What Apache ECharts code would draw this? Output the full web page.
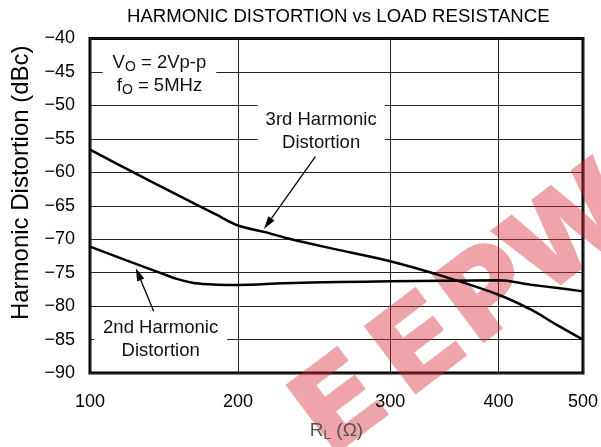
<!DOCTYPE html>
<html><head><meta charset="utf-8">
<script src="https://cdn.jsdelivr.net/npm/echarts@6/dist/echarts.min.js"></script>
<style>html,body{margin:0;padding:0;background:#fff}#c{width:601px;height:447px}</style>
</head><body><div id="c"></div>
<script>
// ---- data ----
const titleText = 'HARMONIC DISTORTION vs LOAD RESISTANCE';
const xTicks = [100, 200, 300, 400, 500];
const xTickLabels = ['100', '200', '300', '400', '500'];
// the original x scale is non-uniform: fraction of the axis length at each tick
const xWarp = [0, 0.3004, 0.6089, 0.8286, 1];

const r3 = [100, 130, 160, 185, 200, 217, 235, 266, 300, 350, 400, 438, 469, 500];
const d3 = [-56.6, -60.1, -63.5, -66.3, -67.95, -68.9, -70.0, -71.6, -73.3, -75.6, -78.3, -80.5, -82.8, -85.0];

const r2 = [100, 125, 147, 158, 169, 180, 192, 200, 230, 266, 300, 350, 400, 438, 470, 500];
const d2 = [-71.1, -73.2, -75.0, -75.9, -76.5, -76.75, -76.85, -76.85, -76.6, -76.4, -76.3, -76.2, -76.15, -76.8, -77.3, -77.8];

// annotations in data coordinates [R, dB]
const noteCond = [146.9, -45.3];
const note3 = [254.6, -53.9];
const note2 = [147.7, -84.93];
const arrow3 = [[250.8, -57.64], [217, -68.48]];
const arrow2 = [[143, -80.78], [130.9, -74.3]];

// ---- helpers ----
const FONT = '"Liberation Sans", Arial, Helvetica, sans-serif';
function toU(r) {
  for (let i = 0; i < xTicks.length - 1; i++) {
    if (r <= xTicks[i + 1] || i === xTicks.length - 2) {
      const f = (r - xTicks[i]) / (xTicks[i + 1] - xTicks[i]);
      return (xWarp[i] + f * (xWarp[i + 1] - xWarp[i])) * 1000;
    }
  }
}
const tickU = xWarp.map(w => w * 1000);

const chart = echarts.init(document.getElementById('c'), null, { renderer: 'canvas' });
const option = {
  animation: false,
  backgroundColor: '#fff',
  title: {
    text: titleText, left: 127, top: 7, padding: 0,
    textStyle: { fontFamily: FONT, fontSize: 18.6, fontWeight: 'normal', color: '#000' }
  },
  grid: { left: 90, right: 15, top: 38.5, bottom: 73.5, show: true, borderColor: '#000', borderWidth: 3 },
  xAxis: {
    type: 'value', min: 0, max: 1000,
    name: '{a|R}{b|L}{a| (Ω)}', nameLocation: 'middle', nameGap: 47,
    nameTextStyle: {
      rich: {
        a: { fontFamily: FONT, fontSize: 19, color: '#555', lineHeight: 22 },
        b: { fontFamily: FONT, fontSize: 13.5, color: '#555', lineHeight: 12, verticalAlign: 'bottom' }
      }
    },
    axisLine: { show: false },
    axisTick: { show: false, customValues: tickU },
    axisLabel: {
      customValues: tickU, margin: 20, fontFamily: FONT, fontSize: 18, color: '#000',
      formatter: v => { const i = tickU.findIndex(t => Math.abs(t - v) < 0.5); return i >= 0 ? xTickLabels[i] : ''; }
    },
    splitLine: { show: true, lineStyle: { color: '#222', width: 1 } }
  },
  yAxis: {
    type: 'value', min: -90, max: -40, interval: 5,
    name: 'Harmonic Distortion (dBc)', nameLocation: 'middle', nameGap: 57,
    nameTextStyle: { fontFamily: FONT, fontSize: 24, color: '#000', padding: [0, 0, 0, 46] },
    axisLine: { show: false },
    axisTick: { show: false },
    axisLabel: {
      margin: 15, fontFamily: FONT, fontSize: 18, color: '#000',
      formatter: v => String(v).replace('-', '\u2212')
    },
    splitLine: { show: true, lineStyle: { color: '#222', width: 1 } }
  },
  series: [
    {
      name: '3rd Harmonic', type: 'line', smooth: 0.35, showSymbol: false,
      lineStyle: { color: '#000', width: 2.5 },
      data: r3.map((r, i) => [toU(r), d3[i]])
    },
    {
      name: '2nd Harmonic', type: 'line', smooth: 0.35, showSymbol: false,
      lineStyle: { color: '#000', width: 2.5 },
      data: r2.map((r, i) => [toU(r), d2[i]])
    }
  ]
};
chart.setOption(option);

function P(pt) { return chart.convertToPixel({ gridIndex: 0 }, [toU(pt[0]), pt[1]]); }
function noteText(pt, text, rich, lh, pad) {
  const p = P(pt);
  return {
    type: 'text', x: p[0], y: p[1], z: 50,
    style: {
      text: text, rich: rich, align: 'center', verticalAlign: 'middle',
      fontFamily: FONT, fontSize: 18.5, fill: '#111', lineHeight: lh,
      backgroundColor: '#fff', padding: pad
    }
  };
}
function arrow(seg) {
  const a = P(seg[0]), b = P(seg[1]);
  const dx = b[0] - a[0], dy = b[1] - a[1], L = Math.hypot(dx, dy);
  const ux = dx / L, uy = dy / L, hl = 13, hw = 3.8;
  const bx = b[0] - ux * hl, by = b[1] - uy * hl;
  return [
    { type: 'line', z: 51, shape: { x1: a[0], y1: a[1], x2: bx, y2: by }, style: { stroke: '#000', lineWidth: 1.3 } },
    { type: 'polygon', z: 51, shape: { points: [[b[0], b[1]], [bx - uy * hw, by + ux * hw], [bx + uy * hw, by - ux * hw]] }, style: { fill: '#000' } }
  ];
}
const mainRich = { v: { fontFamily: FONT, fontSize: 18.5, lineHeight: 23, fill: '#111' }, s: { fontFamily: FONT, fontSize: 14, lineHeight: 6, verticalAlign: 'bottom', fill: '#111' } };

const wm = {
  type: 'group', x: 458, y: 318, rotation: 37 * Math.PI / 180, z: 100, silent: true,
  children: [['E', -146], ['E', -48], ['P', 40], ['W', 142]].map(([ch, off]) => ({
    type: 'text', x: off, y: 0, scaleX: 1.05,
    style: { text: ch, align: 'center', verticalAlign: 'middle', fontFamily: 'Inter, Lato, "DejaVu Sans", sans-serif', fontWeight: 900, fontSize: 118, fill: 'rgba(214,38,50,0.42)' }
  }))
};

chart.setOption({
  graphic: [
    noteText(noteCond, '{v|V}{s|O}{v| = 2Vp-p}\n{v|f}{s|O}{v| = 5MHz}', mainRich, 23, [4, 10, 4, 10]),
    noteText(note3, '3rd Harmonic\nDistortion', null, 23.3, [6, 8, 6, 8]),
    noteText(note2, '2nd Harmonic\nDistortion', null, 23, [4, 9, 4, 9]),
    ...arrow(arrow3), ...arrow(arrow2),
    wm
  ]
});
</script></body></html>
